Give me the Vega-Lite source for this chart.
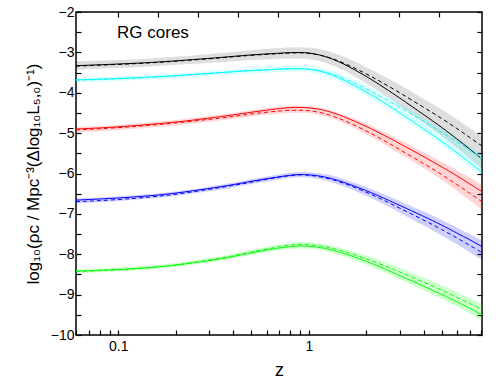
{
  "$schema": "https://vega.github.io/schema/vega-lite/v6.json",
  "autosize": "none",
  "width": 406,
  "height": 323,
  "padding": {"left": 76, "top": 12, "right": 18, "bottom": 50},
  "background": "white",
  "config": {
    "font": "Liberation Sans",
    "view": {"stroke": "#000", "strokeWidth": 1.5},
    "axis": {"grid": false, "domain": false, "tickColor": "#000", "tickWidth": 1.2, "labelColor": "#000", "titleColor": "#000", "labelFont": "Liberation Sans", "titleFont": "Liberation Sans", "labelFontSize": 14, "titleFontWeight": "normal"}
  },
  "datasets": {
    "curves": [
      {"g": "k", "z": 0.06, "s": -3.33, "d": -3.34, "lo": -3.43, "hi": -3.22},
      {"g": "k", "z": 0.1, "s": -3.29, "d": -3.30, "lo": -3.39, "hi": -3.19},
      {"g": "k", "z": 0.15, "s": -3.25, "d": -3.26, "lo": -3.35, "hi": -3.15},
      {"g": "k", "z": 0.2, "s": -3.21, "d": -3.22, "lo": -3.31, "hi": -3.11},
      {"g": "k", "z": 0.3, "s": -3.15, "d": -3.16, "lo": -3.26, "hi": -3.04},
      {"g": "k", "z": 0.4, "s": -3.10, "d": -3.11, "lo": -3.23, "hi": -2.99},
      {"g": "k", "z": 0.5, "s": -3.06, "d": -3.07, "lo": -3.19, "hi": -2.94},
      {"g": "k", "z": 0.7, "s": -3.02, "d": -3.03, "lo": -3.16, "hi": -2.89},
      {"g": "k", "z": 0.8, "s": -3.005, "d": -3.015, "lo": -3.15, "hi": -2.875},
      {"g": "k", "z": 0.9, "s": -3.00, "d": -3.01, "lo": -3.15, "hi": -2.87},
      {"g": "k", "z": 1.0, "s": -3.01, "d": -3.02, "lo": -3.16, "hi": -2.88},
      {"g": "k", "z": 1.2, "s": -3.08, "d": -3.08, "lo": -3.23, "hi": -2.93},
      {"g": "k", "z": 1.5, "s": -3.26, "d": -3.24, "lo": -3.42, "hi": -3.08},
      {"g": "k", "z": 2, "s": -3.59, "d": -3.53, "lo": -3.76, "hi": -3.36},
      {"g": "k", "z": 2.5, "s": -3.88, "d": -3.78, "lo": -4.06, "hi": -3.60},
      {"g": "k", "z": 3, "s": -4.13, "d": -4.00, "lo": -4.32, "hi": -3.80},
      {"g": "k", "z": 4, "s": -4.54, "d": -4.36, "lo": -4.74, "hi": -4.15},
      {"g": "k", "z": 5, "s": -4.86, "d": -4.64, "lo": -5.07, "hi": -4.42},
      {"g": "k", "z": 6, "s": -5.15, "d": -4.89, "lo": -5.37, "hi": -4.66},
      {"g": "k", "z": 7, "s": -5.40, "d": -5.11, "lo": -5.63, "hi": -4.88},
      {"g": "k", "z": 8.1, "s": -5.64, "d": -5.32, "lo": -5.88, "hi": -5.08},

      {"g": "c", "z": 0.06, "s": -3.68, "d": -3.69, "lo": -3.74, "hi": -3.63},
      {"g": "c", "z": 0.1, "s": -3.65, "d": -3.66, "lo": -3.71, "hi": -3.60},
      {"g": "c", "z": 0.15, "s": -3.61, "d": -3.62, "lo": -3.67, "hi": -3.56},
      {"g": "c", "z": 0.2, "s": -3.58, "d": -3.58, "lo": -3.64, "hi": -3.52},
      {"g": "c", "z": 0.3, "s": -3.52, "d": -3.52, "lo": -3.58, "hi": -3.46},
      {"g": "c", "z": 0.4, "s": -3.48, "d": -3.48, "lo": -3.55, "hi": -3.42},
      {"g": "c", "z": 0.5, "s": -3.45, "d": -3.45, "lo": -3.52, "hi": -3.38},
      {"g": "c", "z": 0.7, "s": -3.415, "d": -3.415, "lo": -3.49, "hi": -3.34},
      {"g": "c", "z": 0.8, "s": -3.405, "d": -3.405, "lo": -3.485, "hi": -3.325},
      {"g": "c", "z": 0.9, "s": -3.40, "d": -3.40, "lo": -3.48, "hi": -3.32},
      {"g": "c", "z": 1.0, "s": -3.41, "d": -3.41, "lo": -3.49, "hi": -3.33},
      {"g": "c", "z": 1.2, "s": -3.48, "d": -3.47, "lo": -3.56, "hi": -3.39},
      {"g": "c", "z": 1.5, "s": -3.66, "d": -3.62, "lo": -3.74, "hi": -3.53},
      {"g": "c", "z": 2, "s": -3.98, "d": -3.90, "lo": -4.06, "hi": -3.82},
      {"g": "c", "z": 2.5, "s": -4.25, "d": -4.14, "lo": -4.34, "hi": -4.05},
      {"g": "c", "z": 3, "s": -4.50, "d": -4.36, "lo": -4.59, "hi": -4.27},
      {"g": "c", "z": 4, "s": -4.89, "d": -4.70, "lo": -4.98, "hi": -4.61},
      {"g": "c", "z": 5, "s": -5.21, "d": -4.98, "lo": -5.30, "hi": -4.88},
      {"g": "c", "z": 6, "s": -5.49, "d": -5.22, "lo": -5.59, "hi": -5.12},
      {"g": "c", "z": 7, "s": -5.73, "d": -5.42, "lo": -5.83, "hi": -5.32},
      {"g": "c", "z": 8.1, "s": -5.97, "d": -5.63, "lo": -6.07, "hi": -5.53},

      {"g": "r", "z": 0.06, "s": -4.90, "d": -4.92, "lo": -4.98, "hi": -4.85},
      {"g": "r", "z": 0.1, "s": -4.85, "d": -4.87, "lo": -4.93, "hi": -4.80},
      {"g": "r", "z": 0.15, "s": -4.78, "d": -4.80, "lo": -4.86, "hi": -4.73},
      {"g": "r", "z": 0.2, "s": -4.73, "d": -4.75, "lo": -4.81, "hi": -4.68},
      {"g": "r", "z": 0.3, "s": -4.63, "d": -4.66, "lo": -4.72, "hi": -4.58},
      {"g": "r", "z": 0.4, "s": -4.55, "d": -4.59, "lo": -4.65, "hi": -4.50},
      {"g": "r", "z": 0.5, "s": -4.48, "d": -4.52, "lo": -4.58, "hi": -4.43},
      {"g": "r", "z": 0.7, "s": -4.39, "d": -4.45, "lo": -4.51, "hi": -4.34},
      {"g": "r", "z": 0.8, "s": -4.365, "d": -4.435, "lo": -4.50, "hi": -4.325},
      {"g": "r", "z": 0.9, "s": -4.36, "d": -4.43, "lo": -4.49, "hi": -4.32},
      {"g": "r", "z": 1.0, "s": -4.37, "d": -4.44, "lo": -4.50, "hi": -4.33},
      {"g": "r", "z": 1.2, "s": -4.42, "d": -4.50, "lo": -4.56, "hi": -4.38},
      {"g": "r", "z": 1.5, "s": -4.57, "d": -4.66, "lo": -4.73, "hi": -4.52},
      {"g": "r", "z": 2, "s": -4.83, "d": -4.94, "lo": -5.02, "hi": -4.76},
      {"g": "r", "z": 2.5, "s": -5.06, "d": -5.19, "lo": -5.28, "hi": -4.98},
      {"g": "r", "z": 3, "s": -5.26, "d": -5.41, "lo": -5.51, "hi": -5.17},
      {"g": "r", "z": 4, "s": -5.58, "d": -5.75, "lo": -5.86, "hi": -5.47},
      {"g": "r", "z": 5, "s": -5.84, "d": -6.03, "lo": -6.16, "hi": -5.72},
      {"g": "r", "z": 6, "s": -6.06, "d": -6.28, "lo": -6.43, "hi": -5.92},
      {"g": "r", "z": 7, "s": -6.26, "d": -6.49, "lo": -6.67, "hi": -6.10},
      {"g": "r", "z": 8.1, "s": -6.45, "d": -6.70, "lo": -6.90, "hi": -6.28},

      {"g": "b", "z": 0.06, "s": -6.66, "d": -6.70, "lo": -6.74, "hi": -6.62},
      {"g": "b", "z": 0.1, "s": -6.61, "d": -6.65, "lo": -6.69, "hi": -6.57},
      {"g": "b", "z": 0.15, "s": -6.55, "d": -6.58, "lo": -6.62, "hi": -6.51},
      {"g": "b", "z": 0.2, "s": -6.49, "d": -6.52, "lo": -6.56, "hi": -6.45},
      {"g": "b", "z": 0.3, "s": -6.37, "d": -6.39, "lo": -6.44, "hi": -6.33},
      {"g": "b", "z": 0.4, "s": -6.28, "d": -6.30, "lo": -6.35, "hi": -6.23},
      {"g": "b", "z": 0.5, "s": -6.19, "d": -6.21, "lo": -6.26, "hi": -6.14},
      {"g": "b", "z": 0.7, "s": -6.08, "d": -6.09, "lo": -6.15, "hi": -6.02},
      {"g": "b", "z": 0.8, "s": -6.04, "d": -6.05, "lo": -6.11, "hi": -5.98},
      {"g": "b", "z": 0.9, "s": -6.02, "d": -6.03, "lo": -6.09, "hi": -5.96},
      {"g": "b", "z": 1.0, "s": -6.03, "d": -6.04, "lo": -6.10, "hi": -5.97},
      {"g": "b", "z": 1.2, "s": -6.07, "d": -6.09, "lo": -6.16, "hi": -6.00},
      {"g": "b", "z": 1.5, "s": -6.20, "d": -6.22, "lo": -6.30, "hi": -6.12},
      {"g": "b", "z": 2, "s": -6.42, "d": -6.46, "lo": -6.55, "hi": -6.33},
      {"g": "b", "z": 2.5, "s": -6.62, "d": -6.67, "lo": -6.77, "hi": -6.52},
      {"g": "b", "z": 3, "s": -6.79, "d": -6.86, "lo": -6.97, "hi": -6.68},
      {"g": "b", "z": 4, "s": -7.06, "d": -7.15, "lo": -7.29, "hi": -6.94},
      {"g": "b", "z": 5, "s": -7.28, "d": -7.39, "lo": -7.54, "hi": -7.15},
      {"g": "b", "z": 6, "s": -7.48, "d": -7.60, "lo": -7.76, "hi": -7.34},
      {"g": "b", "z": 7, "s": -7.64, "d": -7.78, "lo": -7.95, "hi": -7.50},
      {"g": "b", "z": 8.1, "s": -7.81, "d": -7.96, "lo": -8.14, "hi": -7.66},

      {"g": "g", "z": 0.06, "s": -8.42, "d": -8.43, "lo": -8.47, "hi": -8.37},
      {"g": "g", "z": 0.1, "s": -8.38, "d": -8.39, "lo": -8.43, "hi": -8.33},
      {"g": "g", "z": 0.15, "s": -8.33, "d": -8.33, "lo": -8.38, "hi": -8.28},
      {"g": "g", "z": 0.2, "s": -8.27, "d": -8.27, "lo": -8.32, "hi": -8.22},
      {"g": "g", "z": 0.3, "s": -8.16, "d": -8.15, "lo": -8.21, "hi": -8.10},
      {"g": "g", "z": 0.4, "s": -8.06, "d": -8.04, "lo": -8.11, "hi": -7.99},
      {"g": "g", "z": 0.5, "s": -7.96, "d": -7.94, "lo": -8.01, "hi": -7.89},
      {"g": "g", "z": 0.7, "s": -7.84, "d": -7.81, "lo": -7.89, "hi": -7.76},
      {"g": "g", "z": 0.8, "s": -7.81, "d": -7.77, "lo": -7.87, "hi": -7.71},
      {"g": "g", "z": 0.9, "s": -7.79, "d": -7.75, "lo": -7.85, "hi": -7.69},
      {"g": "g", "z": 1.0, "s": -7.80, "d": -7.76, "lo": -7.86, "hi": -7.70},
      {"g": "g", "z": 1.2, "s": -7.84, "d": -7.80, "lo": -7.91, "hi": -7.74},
      {"g": "g", "z": 1.5, "s": -7.96, "d": -7.91, "lo": -8.03, "hi": -7.85},
      {"g": "g", "z": 2, "s": -8.17, "d": -8.11, "lo": -8.25, "hi": -8.03},
      {"g": "g", "z": 2.5, "s": -8.36, "d": -8.28, "lo": -8.45, "hi": -8.19},
      {"g": "g", "z": 3, "s": -8.53, "d": -8.44, "lo": -8.62, "hi": -8.34},
      {"g": "g", "z": 4, "s": -8.79, "d": -8.69, "lo": -8.89, "hi": -8.58},
      {"g": "g", "z": 5, "s": -9.00, "d": -8.89, "lo": -9.11, "hi": -8.77},
      {"g": "g", "z": 6, "s": -9.18, "d": -9.07, "lo": -9.30, "hi": -8.94},
      {"g": "g", "z": 7, "s": -9.34, "d": -9.22, "lo": -9.47, "hi": -9.09},
      {"g": "g", "z": 8.1, "s": -9.50, "d": -9.37, "lo": -9.63, "hi": -9.24}
    ],
    "label": [{"z": 0.152, "y": -2.53, "t": "RG cores"}]
  },
  "resolve": {"axis": {"x": "independent", "y": "independent"}},
  "layer": [
    {
      "data": {"name": "curves"},
      "mark": {"type": "area", "interpolate": "basis", "clip": true},
      "encoding": {
        "x": {"field": "z", "type": "quantitative", "scale": {"type": "log", "domain": [0.06, 8.1], "nice": false},
              "axis": {"orient": "bottom", "title": "z", "titleFontSize": 18, "titlePadding": 8,
                       "values": [0.06, 0.07, 0.08, 0.09, 0.1, 0.2, 0.3, 0.4, 0.5, 0.6, 0.7, 0.8, 0.9, 1, 2, 3, 4, 5, 6, 7, 8],
                       "labelExpr": "datum.value == 0.1 ? '0.1' : (datum.value == 1 ? '1' : '')",
                       "tickSize": -5, "labelPadding": 9}},
        "y": {"field": "lo", "type": "quantitative", "scale": {"domain": [-10, -2], "nice": false},
              "axis": {"orient": "left", "title": "log₁₀(ρc / Mpc⁻³(Δlog₁₀L₅,₀)⁻¹)", "titleFontSize": 17, "titlePadding": 8,
                       "values": [-10, -9.5, -9, -8.5, -8, -7.5, -7, -6.5, -6, -5.5, -5, -4.5, -4, -3.5, -3, -2.5, -2],
                       "labelExpr": "datum.value % 1 == 0 ? format(datum.value, 'd') : ''",
                       "tickSize": -5, "labelPadding": 7}},
        "y2": {"field": "hi"},
        "color": {"field": "g", "type": "nominal", "scale": {"domain": ["k", "c", "r", "b", "g"], "range": ["#000000", "#00ffff", "#ff0000", "#0000ff", "#00ff00"]}, "legend": null},
        "fillOpacity": {"field": "g", "type": "nominal", "scale": {"domain": ["k", "c", "r", "b", "g"], "range": [0.13, 0.2, 0.17, 0.17, 0.2]}, "legend": null}
      }
    },
    {
      "data": {"name": "curves"},
      "mark": {"type": "line", "interpolate": "basis", "strokeWidth": 1, "clip": true},
      "encoding": {
        "x": {"field": "z", "type": "quantitative",
              "axis": {"orient": "top", "title": null, "labels": false,
                       "values": [0.1, 0.162, 0.263, 0.427, 0.69, 1.13, 1.83, 2.97, 4.8], "tickSize": -5}},
        "y": {"field": "s", "type": "quantitative",
              "axis": {"orient": "right", "title": null, "labels": false,
                       "values": [-10, -9.5, -9, -8.5, -8, -7.5, -7, -6.5, -6, -5.5, -5, -4.5, -4, -3.5, -3, -2.5, -2], "tickSize": -5}},
        "color": {"field": "g", "type": "nominal", "legend": null}
      }
    },
    {
      "data": {"name": "curves"},
      "mark": {"type": "line", "interpolate": "basis", "strokeWidth": 1, "strokeDash": [4, 3], "clip": true},
      "encoding": {
        "x": {"field": "z", "type": "quantitative", "axis": null},
        "y": {"field": "d", "type": "quantitative", "axis": null},
        "color": {"field": "g", "type": "nominal", "legend": null}
      }
    },
    {
      "data": {"name": "label"},
      "mark": {"type": "text", "fontSize": 17, "font": "Liberation Sans", "color": "#000", "align": "center", "baseline": "middle"},
      "encoding": {
        "x": {"field": "z", "type": "quantitative", "axis": null},
        "y": {"field": "y", "type": "quantitative", "axis": null},
        "text": {"field": "t"}
      }
    }
  ]
}
